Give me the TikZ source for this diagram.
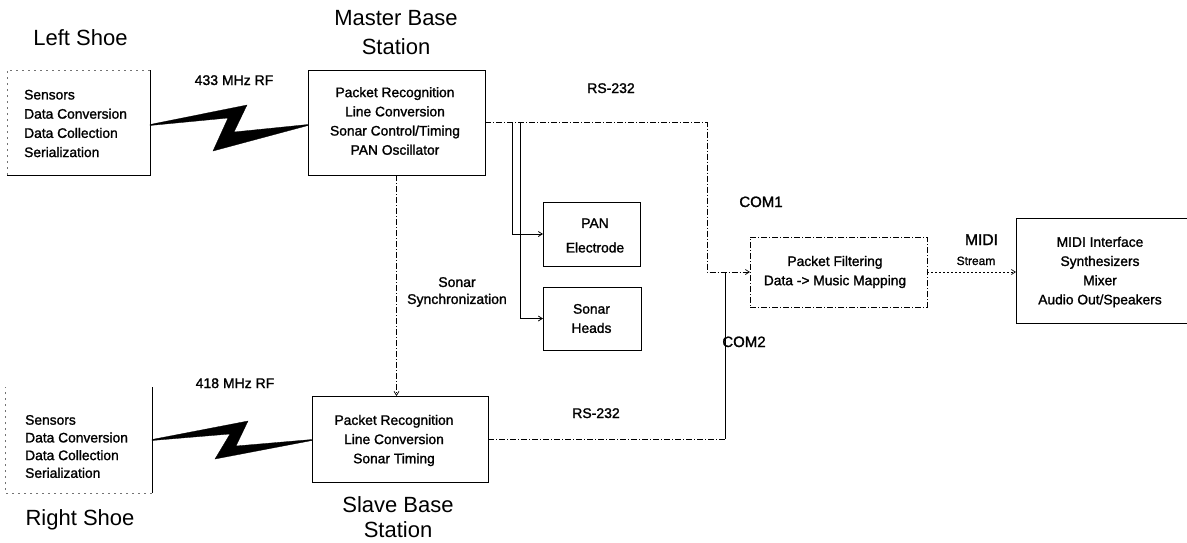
\documentclass[tikz,border=0pt]{standalone}
\usepackage{fontspec}
\setmainfont{Liberation Sans}
\newfontfamily\heavyfont{Liberation Sans}[FakeBold=1.4]
\usetikzlibrary{arrows.meta,calc}
\begin{document}
\begin{tikzpicture}[x=1pt,y=-1pt,
  box/.style={draw, line width=0.8pt, inner sep=0pt, outer sep=0pt},
  frame/.style={inner sep=0pt, outer sep=0pt},
  faint/.style={draw=black!55, line width=0.6pt, dash pattern=on 2pt off 4pt},
  txt/.style={inner sep=0pt, align=center, font=\heavyfont\fontsize{13.8}{19.2}\selectfont},
  ttl/.style={inner sep=0pt, align=center, font=\fontsize{22}{29}\selectfont},
  lbl/.style={inner sep=0pt, anchor=base, font=\heavyfont\fontsize{14}{17}\selectfont},
  rs/.style={line width=0.7pt, dash pattern=on 6pt off 2pt on 1pt off 2pt},
  solidline/.style={line width=0.8pt},
  midiline/.style={line width=0.7pt, dash pattern=on 1.5pt off 2.5pt},
  tip/.style={-{Straight Barb[length=4pt,width=5pt]}},
  bolt/.style={fill=black, draw=black, line width=0.3pt, line join=miter},
]
\useasboundingbox (0,0) rectangle (1187,542);

% ---- boxes ----
\node[frame, minimum width=143pt, minimum height=105pt] (lshoe) at (78.5,122.5) {};
\node[frame, minimum width=147pt, minimum height=106pt] (rshoe) at (78.5,440) {};
\node[box, minimum width=177pt, minimum height=105pt] (master) at (396.5,122.5) {};
\node[box, minimum width=176pt, minimum height=86pt] (slave) at (400,439) {};
\node[box, minimum width=97pt, minimum height=64pt] (pan) at (591.5,234) {};
\node[box, minimum width=98pt, minimum height=63pt] (sonar) at (592,318.5) {};
\node[box, rs, minimum width=177pt, minimum height=70pt] (pf) at (838.5,272) {};
\node[box, minimum width=176pt, minimum height=105pt] (midi) at (1104,270.5) {};

% shoe box edges
\draw[solidline] (lshoe.north east) -- (lshoe.south east) -- (lshoe.south west);
\draw[faint] (lshoe.south west) -- (lshoe.north west) -- (lshoe.north east);
\draw[solidline] (rshoe.north east) -- (rshoe.south east);
\draw[faint] (rshoe.south east) -- (rshoe.south west) -- (rshoe.north west);

% ---- box texts ----
\node[txt, align=left, anchor=west] (lshoe-t) at (24,123.5)
  {Sensors\\Data Conversion\\Data Collection\\Serialization};
\node[txt, align=left, anchor=west, font=\heavyfont\fontsize{13.8}{17.7}\selectfont] (rshoe-t) at (25,446.5)
  {Sensors\\Data Conversion\\Data Collection\\Serialization};
\node[txt] (master-t) at (395,121)
  {Packet Recognition\\Line Conversion\\Sonar Control/Timing\\PAN Oscillator};
\node[txt] (slave-t) at (394,440.5)
  {Packet Recognition\\Line Conversion\\Sonar Timing};
\node[txt, font=\heavyfont\fontsize{13.8}{24.5}\selectfont] (pan-t) at (595,235.5) {PAN\\Electrode};
\node[txt] (sonar-t) at (591.5,318.5) {Sonar\\Heads};
\node[txt] (pf-t) at (835,272) {Packet Filtering\\Data -> Music Mapping};
\node[txt] (midi-t) at (1100,272)
  {MIDI Interface\\Synthesizers\\Mixer\\Audio Out/Speakers};

% ---- titles ----
\node[ttl, anchor=base] (lshoe-l) at (80.5,45) {Left Shoe};
\node[ttl] (master-l) at (396,32.5) {Master Base\\Station};
\node[ttl, font=\fontsize{22}{25}\selectfont] (slave-l) at (398,517.5) {Slave Base\\Station};
\node[ttl, anchor=base] (rshoe-l) at (80,525) {Right Shoe};

% ---- labels ----
\node[lbl] (rf1) at (234,85) {433 MHz RF};
\node[lbl] (rf2) at (235,388) {418 MHz RF};
\node[lbl] (rs1) at (611,93) {RS-232};
\node[lbl] (rs2) at (596,418) {RS-232};
\node[lbl, font=\heavyfont\fontsize{15}{18}\selectfont] (com1) at (761,207) {COM1};
\node[lbl, font=\heavyfont\fontsize{15}{18}\selectfont] (com2) at (744,347) {COM2};
\node[lbl, font=\heavyfont\fontsize{15.6}{18}\selectfont] (midil) at (981.5,245) {MIDI};
\node[lbl, font=\heavyfont\fontsize{12}{14}\selectfont] (stream) at (976,265) {Stream};
\node[txt, font=\heavyfont\fontsize{14}{17}\selectfont] (sync) at (457,292) {Sonar\\Synchronization};

% ---- RF links (lightning bolts) ----
\filldraw[bolt] (lshoe.east |- 0,124.5) -- (247,105) -- (234,132)
  -- (master.west |- 0,124.5) -- (master.west |- 0,125.5) -- (213,151) -- (228,118)
  -- (lshoe.east |- 0,125.5) -- cycle;
\filldraw[bolt] (rshoe.east |- 0,439.5) -- (248,421) -- (236,446)
  -- (slave.west |- 0,439.5) -- (slave.west |- 0,440.5) -- (215,459) -- (230,434)
  -- (rshoe.east |- 0,440.5) -- cycle;

% ---- connectors ----
\coordinate (c1) at ($(master.east)+(222,0)$);
\draw[rs, tip] (master.east) -- (c1) |- (pf.west);
\coordinate (b1) at ($(master.east)+(27,0)$);
\coordinate (b2) at ($(master.east)+(35,0)$);
\draw[solidline, tip] (b1) |- (pan.west);
\draw[solidline, tip] (b2) |- (sonar.west);
\coordinate (c2) at ($(slave.east)+(237,0)$);
\draw[rs] (slave.east) -- (c2);
\draw[solidline] (c2) -- (c2 |- pf.west);
\draw[rs, tip] (master.south) -- (master.south |- slave.north);
\draw[midiline, tip] (pf.east) -- (midi.west |- pf.east);
\end{tikzpicture}
\end{document}
